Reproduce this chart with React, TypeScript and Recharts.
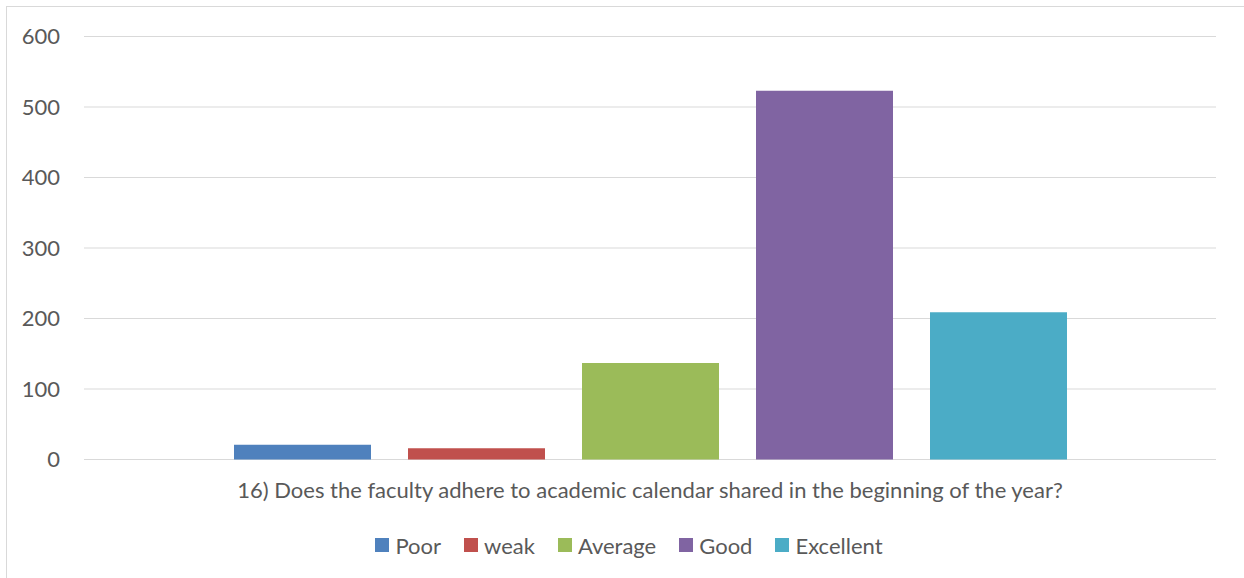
import React from "react";
import { BarChart, Bar, XAxis, YAxis, CartesianGrid } from "recharts";

const categories = [
  "16) Does the faculty adhere to academic calendar shared in the beginning of the year?",
];
const seriesNames = ["Poor", "weak", "Average", "Good", "Excellent"];
const poorValues = [21];
const weakValues = [16];
const averageValues = [137];
const goodValues = [523];
const excellentValues = [209];
const yTicks = [0, 100, 200, 300, 400, 500, 600];
const seriesColors = ["#4f81bd", "#c0504d", "#9bbb59", "#8064a2", "#4bacc6"];

const seriesValues = [poorValues, weakValues, averageValues, goodValues, excellentValues];

const data = categories.map((name, i) => {
  const row: Record<string, string | number> = { name };
  seriesNames.forEach((s, k) => {
    row[s] = seriesValues[k][i];
  });
  return row;
});

const FONT = "Lato, 'Open Sans', sans-serif";
const TEXT = "#595959";

export default function App() {
  return (
    <div
      style={{
        position: "absolute",
        left: 0,
        top: 0,
        width: 1244,
        height: 578,
        overflow: "hidden",
        background: "#ffffff",
        fontFamily: FONT,
      }}
    >
      <div
        style={{
          position: "absolute",
          left: 6,
          top: 6,
          width: 1300,
          height: 700,
          border: "1.5px solid #d9d9d9",
          boxSizing: "border-box",
        }}
      />
      <div style={{ position: "absolute", left: 0, top: 0 }}>
        <BarChart
          width={1244}
          height={578}
          data={data}
          margin={{ top: 36.5, right: 28, bottom: 0, left: 0 }}
          barSize={137}
          barGap={37}
        >
          <CartesianGrid vertical={false} stroke="#d9d9d9" strokeWidth={1} />
          <XAxis
            dataKey="name"
            axisLine={false}
            tickLine={false}
            height={118.5}
            tickMargin={17}
            tick={{ fill: TEXT, fontSize: 22, fontFamily: FONT }}
          />
          <YAxis
            width={84}
            domain={[0, 600]}
            ticks={yTicks}
            axisLine={false}
            tickLine={false}
            tickMargin={18}
            tick={{ fill: TEXT, fontSize: 22, fontFamily: FONT }}
          />
          {seriesNames.map((s, k) => (
            <Bar key={s} dataKey={s} fill={seriesColors[k]} isAnimationActive={false} />
          ))}
        </BarChart>
      </div>
      <div
        style={{
          position: "absolute",
          left: 7,
          top: 530,
          width: 1244,
          height: 30,
          display: "flex",
          justifyContent: "center",
          alignItems: "center",
          color: TEXT,
          fontSize: 22,
          fontFamily: FONT,
        }}
      >
        {seriesNames.map((s, k) => (
          <div
            key={s}
            style={{
              display: "flex",
              alignItems: "center",
              marginRight: k === seriesNames.length - 1 ? 0 : 23,
            }}
          >
            <span
              style={{
                display: "inline-block",
                width: 14,
                height: 14,
                background: seriesColors[k],
                marginRight: 6,
              }}
            />
            <span>{s}</span>
          </div>
        ))}
      </div>
    </div>
  );
}
